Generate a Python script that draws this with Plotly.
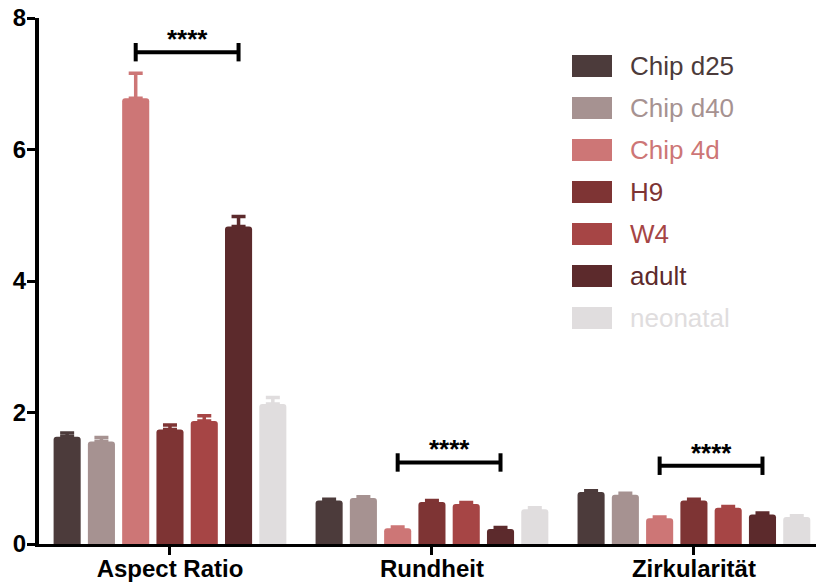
import plotly.graph_objects as go

# Measurements and groups
categories = ["Aspect Ratio", "Rundheit", "Zirkularität"]
series_names = ["Chip d25", "Chip d40", "Chip 4d", "H9", "W4", "adult", "neonatal"]
series_colors = ["#4C3B3B", "#A69291", "#CD7676", "#7E3434", "#A64545", "#5C2A2C", "#E0DDDE"]

chip_d25 = [1.63, 0.66, 0.79]
chip_d40 = [1.56, 0.70, 0.75]
chip_4d = [6.78, 0.24, 0.39]
h9 = [1.74, 0.64, 0.66]
w4 = [1.87, 0.61, 0.55]
adult = [4.83, 0.23, 0.45]
neonatal = [2.13, 0.53, 0.41]

chip_d25_err = [0.06, 0.02, 0.02]
chip_d40_err = [0.06, 0.02, 0.02]
chip_4d_err = [0.38, 0.02, 0.02]
h9_err = [0.07, 0.02, 0.02]
w4_err = [0.08, 0.02, 0.02]
adult_err = [0.15, 0.02, 0.02]
neonatal_err = [0.10, 0.02, 0.02]

values = [chip_d25, chip_d40, chip_4d, h9, w4, adult, neonatal]
errors = [chip_d25_err, chip_d40_err, chip_4d_err, h9_err, w4_err, adult_err, neonatal_err]

# Significance brackets: (category index, first series, second series, height, label)
bracket_group = [0, 1, 2]
bracket_from = [2, 2, 2]
bracket_to = [5, 5, 5]
bracket_height = [7.48, 1.24, 1.19]
bracket_label = ["****", "****", "****"]

yticks = [0, 2, 4, 6, 8]

BARGAP = 0.084
BARGROUPGAP = 0.21
n_series = len(series_names)
slot = (1 - BARGAP) / n_series

fig = go.Figure()
x_pos = list(range(len(categories)))
for name, col, vals, errs in zip(series_names, series_colors, values, errors):
    fig.add_trace(go.Bar(
        x=x_pos, y=vals, name=name,
        marker=dict(color=col, line=dict(width=0), cornerradius=3),
        error_y=dict(type="data", symmetric=False, array=errs,
                     arrayminus=[0] * len(errs), color=col,
                     thickness=3.5, width=7),
        showlegend=False,
    ))

shapes = []
annotations = []


def slot_center(group, idx):
    return group + (idx - (n_series - 1) / 2) * slot


tick_half = 0.14
for g, a, b, h, lab in zip(bracket_group, bracket_from, bracket_to, bracket_height, bracket_label):
    x0 = slot_center(g, a)
    x1 = slot_center(g, b)
    line = dict(color="black", width=4)
    shapes.append(dict(type="line", xref="x", yref="y", x0=x0, x1=x1, y0=h, y1=h, line=line))
    shapes.append(dict(type="line", xref="x", yref="y", x0=x0, x1=x0, y0=h - tick_half, y1=h + tick_half, line=line))
    shapes.append(dict(type="line", xref="x", yref="y", x0=x1, x1=x1, y0=h - tick_half, y1=h + tick_half, line=line))
    annotations.append(dict(x=(x0 + x1) / 2, y=h, xref="x", yref="y", text=f"<b>{lab}</b>",
                            showarrow=False, yanchor="bottom", yshift=-4,
                            font=dict(family="Liberation Sans", size=26, color="black")))

# Legend drawn as large swatches with coloured labels
L, T, W, H = 39, 18, 816, 585 - 41
plot_w = W - L
plot_h = H - T


def px_x(p):
    return (p - L) / plot_w


def px_y(p):
    return (H - p) / plot_h


row0, row_step = 66, 42.0
for i, (name, col) in enumerate(zip(series_names, series_colors)):
    cy = row0 + i * row_step
    shapes.append(dict(type="rect", xref="paper", yref="paper",
                       x0=px_x(572), x1=px_x(612), y0=px_y(cy + 11), y1=px_y(cy - 11),
                       fillcolor=col, line=dict(width=0)))
    annotations.append(dict(x=px_x(628), y=px_y(cy), xref="paper", yref="paper",
                            text=name, showarrow=False, xanchor="left", yanchor="middle",
                            font=dict(family="Liberation Sans", size=26, color=col)))

fig.update_layout(
    width=816, height=585,
    margin=dict(l=L, r=0, t=T, b=41, pad=0),
    barmode="group", bargap=BARGAP, bargroupgap=BARGROUPGAP,
    plot_bgcolor="white", paper_bgcolor="white",
    shapes=shapes, annotations=annotations,
    xaxis=dict(range=[-0.5, 2.466], tickvals=x_pos, ticktext=[f"<b>{c}</b>" for c in categories],
               showline=True, linecolor="black", linewidth=3, ticks="outside",
               ticklen=8, tickwidth=3, tickcolor="black", showgrid=False, zeroline=False,
               automargin=False, ticklabelstandoff=-7,
               tickfont=dict(family="Liberation Sans", size=24, color="black")),
    yaxis=dict(range=[0, 8], tickvals=yticks, ticktext=[f"<b>{v}</b>" for v in yticks],
               showline=True, linecolor="black", linewidth=4, ticks="outside",
               ticklen=8, tickwidth=3, tickcolor="black", showgrid=False, zeroline=False,
               automargin=False, ticklabelstandoff=-4,
               tickfont=dict(family="Liberation Sans", size=24, color="black")),
)

fig.write_html("out.html")
